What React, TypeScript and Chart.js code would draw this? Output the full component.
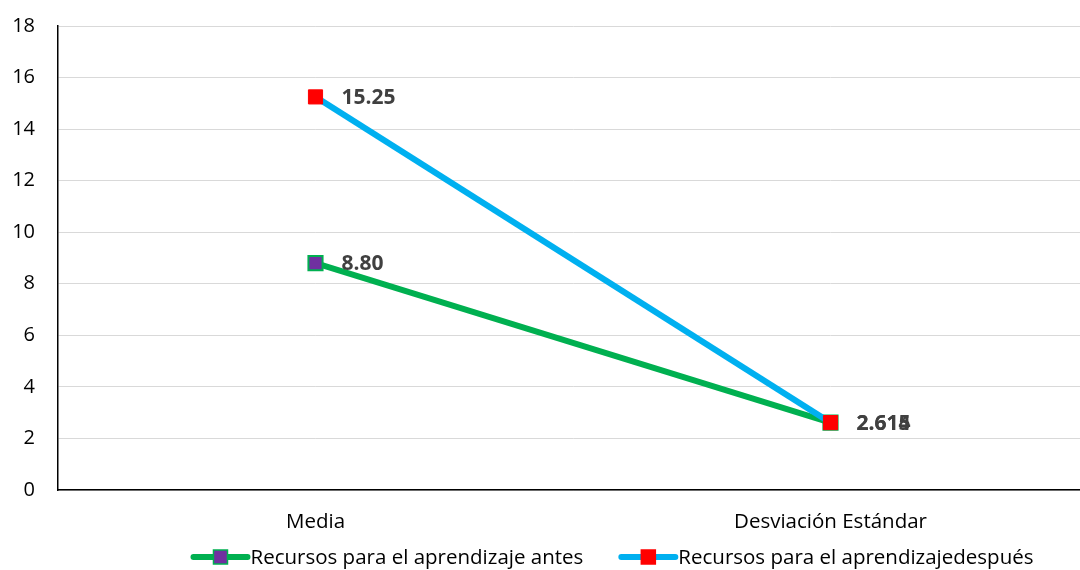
import React, { useEffect, useRef } from "react";
import { Chart, registerables } from "chart.js";

Chart.register(...registerables);

const categories = ["Media", "Desviación Estándar"];
const antesValues = [8.8, 2.614];
const despuesValues = [15.25, 2.615];
const antesLabels = ["8.80", "2.614"];
const despuesLabels = ["15.25", "2.615"];
const seriesNames = ["Recursos para el aprendizaje antes", "Recursos para el aprendizajedespués"];
const yTicks = [0, 2, 4, 6, 8, 10, 12, 14, 16, 18];

const FONT = "'Open Sans', Lato, sans-serif";
const GREEN = "#00B050";
const BLUE = "#00B0F0";
const PURPLE = "#7030A0";
const RED = "#FF0000";

const labelsPlugin = {
  id: "valueLabels",
  afterDatasetsDraw(chart: any) {
    const ctx = chart.ctx;
    const labelSets = [antesLabels, despuesLabels];
    ctx.save();
    ctx.font = `bold 21px ${FONT}`;
    ctx.fillStyle = "#404040";
    ctx.textBaseline = "middle";
    ctx.textAlign = "left";
    chart.data.datasets.forEach((ds: any, i: number) => {
      const meta = chart.getDatasetMeta(i);
      meta.data.forEach((pt: any, j: number) => {
        ctx.fillText(labelSets[i][j], pt.x + 26, pt.y + 1);
      });
    });
    ctx.restore();
  },
};

const legendPlugin = {
  id: "customLegend",
  afterDraw(chart: any) {
    const ctx = chart.ctx;
    ctx.save();
    ctx.font = `20.5px ${FONT}`;
    const lineW = 60;
    const gap = 35;
    const items = [
      { name: seriesNames[0], line: GREEN, fill: PURPLE, border: GREEN },
      { name: seriesNames[1], line: BLUE, fill: RED, border: RED },
    ];
    const widths = items.map((it) => lineW + ctx.measureText(it.name).width);
    const total = widths.reduce((a, b) => a + b, 0) + gap;
    const center = 612;
    let x = center - total / 2;
    const y = 557;
    items.forEach((it, i) => {
      ctx.strokeStyle = it.line;
      ctx.lineWidth = 6;
      ctx.lineCap = "round";
      ctx.beginPath();
      ctx.moveTo(x + 3, y);
      ctx.lineTo(x + lineW - 3, y);
      ctx.stroke();
      ctx.fillStyle = it.fill;
      ctx.fillRect(x + lineW / 2 - 7, y - 7, 14, 14);
      ctx.strokeStyle = it.border;
      ctx.lineWidth = 1.5;
      ctx.strokeRect(x + lineW / 2 - 7, y - 7, 14, 14);
      ctx.fillStyle = "#000";
      ctx.textBaseline = "middle";
      ctx.textAlign = "left";
      ctx.fillText(it.name, x + lineW, y + 1);
      x += widths[i] + gap;
    });
    ctx.restore();
  },
};

export default function App() {
  const ref = useRef<HTMLCanvasElement>(null);
  useEffect(() => {
    const chart = new Chart(ref.current as HTMLCanvasElement, {
      type: "line",
      data: {
        labels: categories,
        datasets: [
          {
            label: seriesNames[0],
            data: antesValues,
            borderColor: GREEN,
            borderWidth: 6,
            pointStyle: "rect",
            pointRadius: 10,
            pointBackgroundColor: PURPLE,
            pointBorderColor: GREEN,
            pointBorderWidth: 2,
            order: 1,
          },
          {
            label: seriesNames[1],
            data: despuesValues,
            borderColor: BLUE,
            borderWidth: 6,
            pointStyle: "rect",
            pointRadius: 10,
            pointBackgroundColor: RED,
            pointBorderColor: RED,
            pointBorderWidth: 1,
            order: 0,
          },
        ],
      },
      options: {
        animation: false,
        responsive: false,
        layout: { padding: { top: 26, right: 10, left: 0, bottom: 0 } },
        plugins: { legend: { display: false }, tooltip: { enabled: false } },
        scales: {
          x: {
            offset: true,
            grid: { display: false },
            border: { color: "#000", width: 1.5 },
            ticks: { color: "#000", font: { family: FONT, size: 20.5 }, padding: 12 },
            afterFit: (s: any) => {
              s.height = 80;
              s.paddingLeft = 0;
              s.paddingRight = 0;
            },
          },
          y: {
            min: 0,
            max: 18,
            afterBuildTicks: (s: any) => {
              s.ticks = yTicks.map((v) => ({ value: v }));
            },
            grid: { color: "#d9d9d9", lineWidth: 1, drawTicks: false },
            border: { color: "#000", width: 1.5 },
            ticks: { color: "#000", font: { family: FONT, size: 20 }, padding: 23 },
            afterFit: (s: any) => {
              s.width = 58;
              s.paddingTop = 0;
              s.paddingBottom = 0;
            },
          },
        },
      },
      plugins: [labelsPlugin, legendPlugin],
    });
    return () => chart.destroy();
  }, []);
  return (
    <div style={{ position: "absolute", left: 0, top: 0, width: 1080, height: 570, overflow: "hidden", background: "#fff" }}>
      <canvas ref={ref} width={1100} height={570} style={{ display: "block" }} />
    </div>
  );
}
